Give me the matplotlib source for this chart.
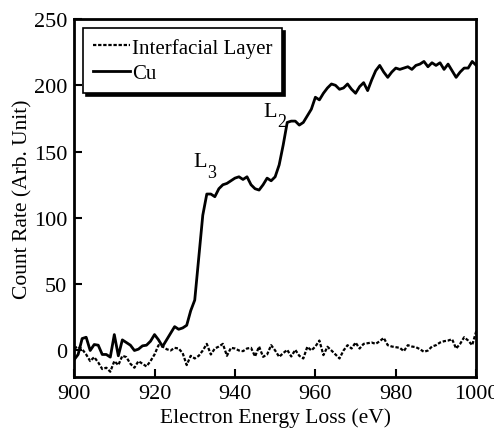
import numpy as np
import matplotlib
matplotlib.use('Agg')
import matplotlib.pyplot as plt

plt.rcParams['font.family'] = 'Liberation Serif'

#energy loss axis, 1 eV steps
energy = np.arange(900, 1001, 1)

#Cu spectrum
cu = [-7, -3, 9, 10, 0, 4.5, 4, -3, -3, -5,
      12, -4, 8, 6, 4, 0, 1, 3.5, 4, 7,
      12, 8, 3, 8, 13, 18, 16, 17, 19, 30,
      38, 70, 102, 118, 118, 116, 122, 125, 126, 128,
      130, 131, 129, 131, 125, 122, 121, 125, 130, 128,
      131, 140, 155, 172, 173, 173, 170, 172, 177, 182,
      191, 189, 194, 198, 201, 200, 197, 198, 201, 197,
      194, 199, 202, 196, 204, 211, 215, 210, 206, 210,
      213, 212, 213, 214, 212, 215, 216, 218, 214, 217,
      215, 217, 212, 216, 211, 206, 210, 213, 213, 218,
      215]

#interfacial layer spectrum
interfacial = [1.5, 3, 1, -3, -8, -5, -9, -14, -13, -16,
               -8, -11, -4, -5, -10, -13, -8, -10, -12, -8,
               -3, 4, 3, 1, 0, 2, 1.5, -2, -11, -4,
               -6, -4, 0, 5, -3, 1.5, 3, 5, -4, 2,
               1.5, 0, -0.5, 1.5, 2, -4.5, 3, -4.8, -3, 4,
               0, -4.8, -2, 0.5, -4.5, 0.5, -4, -6, 2.8, 0,
               3, 7.5, -3.5, 2.8, 0, -3, -6, 0, 4, 1.5,
               6, 1.5, 5, 5.5, 6, 5, 7, 9.5, 4, 3,
               2.5, 2, -0.5, 4, 3, 2.5, 1, -1, 0, 3,
               4, 6, 7, 7.5, 8.5, 1.5, 5, 10, 7.5, 4,
               14.5]

fig = plt.figure(figsize=(4.94, 4.35), dpi=100)
ax = fig.add_axes([0.150, 0.131, 0.814, 0.823])

ax.plot(energy, interfacial, color='black', linestyle=(0, (1.5, 0.8)), linewidth=1.6, label='Interfacial Layer')
ax.plot(energy, cu, color='black', linewidth=2.0, label='Cu')

#edge labels, letter and subscript placed separately
ax.text(929.6, 139, 'L', fontsize=16, ha='left', va='baseline')
ax.text(933.0, 131, '3', fontsize=13, ha='left', va='baseline')
ax.text(947.0, 177, 'L', fontsize=16, ha='left', va='baseline')
ax.text(950.4, 169, '2', fontsize=13, ha='left', va='baseline')

ax.set_xlim(900, 1000)
ax.set_ylim(-20, 250)
ax.set_xticks(np.arange(900, 1001, 20))
ax.set_yticks(np.arange(0, 251, 50))
ax.tick_params(direction='in', length=6, width=1.5, labelsize=16, top=False, right=False, pad=5)
for s in ax.spines.values():
    s.set_linewidth(2)

ax.set_xlabel('Electron Energy Loss (eV)', fontsize=15.5, labelpad=3)
ax.set_ylabel('Count Rate (Arb. Unit)', fontsize=15.5, labelpad=1)

leg = ax.legend(loc='upper left', fontsize=15, fancybox=False, edgecolor='black',
                framealpha=1, shadow={'color': 'black', 'alpha': 1},
                handlelength=1.8, handletextpad=0.1, borderpad=0.45, labelspacing=0.3,
                borderaxespad=0.45)
leg.get_frame().set_linewidth(1.2)

plt.savefig('out.png', dpi=100)
